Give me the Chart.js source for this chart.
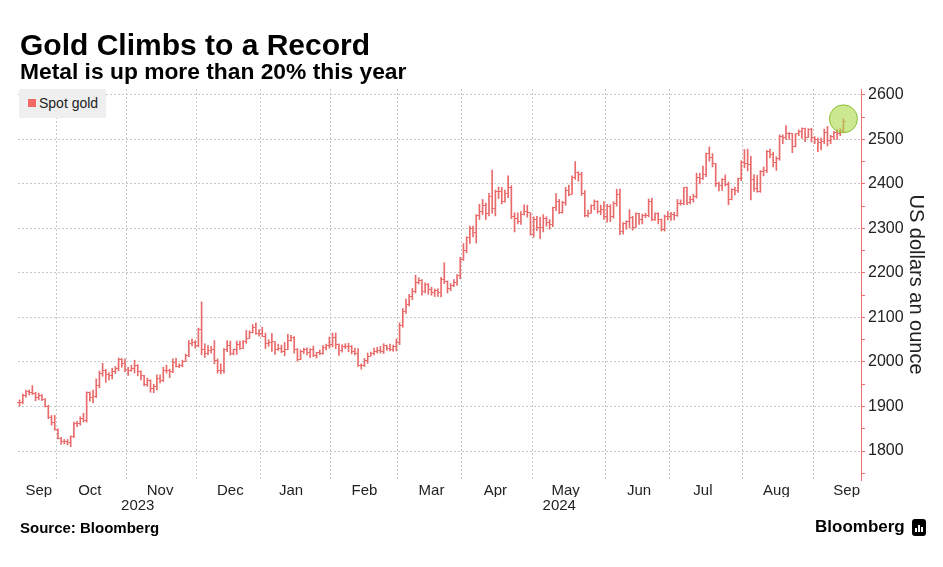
<!DOCTYPE html>
<html>
<head>
<meta charset="utf-8">
<script src="https://cdn.jsdelivr.net/npm/chart.js@4.4.1/dist/chart.umd.min.js"></script>
<style>
html,body{margin:0;padding:0;background:#fff;}
body{width:943px;height:567px;position:relative;overflow:hidden;font-family:'Liberation Sans',Arial,sans-serif;color:#000;}
#chart{position:absolute;left:0;top:0;}
.title{position:absolute;left:20px;top:30px;font-size:30px;line-height:30px;font-weight:bold;white-space:nowrap;}
.subtitle{position:absolute;left:20px;top:60px;font-size:22.8px;line-height:22px;font-weight:bold;white-space:nowrap;}
.legend{position:absolute;left:19px;top:89px;width:87px;height:29px;background:#efefef;border-radius:2px;}
.legend .sw{position:absolute;left:9px;top:10px;width:8px;height:8px;background:#f36a64;}
.legend .lt{position:absolute;left:20px;top:6px;font-size:14px;line-height:16px;color:#222;white-space:nowrap;}
.source{position:absolute;left:20px;top:520px;font-size:15px;line-height:15px;font-weight:bold;white-space:nowrap;}
.logo{position:absolute;left:815px;top:518px;font-size:17px;line-height:17px;font-weight:bold;white-space:nowrap;}
.icon{position:absolute;left:912px;top:519px;width:14px;height:17px;background:#000;border-radius:3px;}
.icon i{position:absolute;bottom:4px;width:2px;background:#fff;}
</style>
</head>
<body>
<canvas id="chart" width="943" height="567"></canvas>
<div class="title">Gold Climbs to a Record</div>
<div class="subtitle">Metal is up more than 20% this year</div>
<div class="legend"><div class="sw"></div><div class="lt">Spot gold</div></div>
<div class="source">Source: Bloomberg</div>
<div class="logo">Bloomberg</div>
<div class="icon"><i style="left:3px;height:4px"></i><i style="left:6px;height:7px"></i><i style="left:9px;height:5px"></i></div>
<script>
// ---- categories: trading days (weekdays minus market holidays) ----
const startDate = '2023-09-14';
const axisEndDate = '2024-09-20';
const holidays = ['2023-12-25', '2024-01-01', '2024-03-29'];
const monthNames = ['Jan','Feb','Mar','Apr','May','Jun','Jul','Aug','Sep','Oct','Nov','Dec'];
const seriesName = 'Spot gold';
const yAxisTitle = 'US dollars an ounce';

// ---- series values (US$/oz), one row per month ----
const openPrice = [
  1908,1910,1924,1934,1931,1930,1920,1925,1916,1901,1875,1864,
  1849,1828,1822,1821,1820,1833,1861,1861,1874,1868,1932,1920,1923,1947,1974,1981,1973,1970,1979,1985,2006,1996,
  1983,1982,1985,1992,1978,1969,1950,1958,1940,1946,1963,1959,1981,1980,1978,1999,1990,1992,2002,2014,2041,2044,
  2036,2072,2029,2019,2025,2028,2004,1982,1980,2027,2036,2019,2027,2040,2031,2045,2053,2067,2077,2065,
  2063,2058,2042,2043,2045,2028,2030,2024,2029,2049,2056,2028,2006,2023,2029,2022,2029,2014,2021,2018,2032,2037,
  2039,2054,2039,2025,2035,2035,2034,2024,2020,1992,1992,2004,2013,2018,2024,2025,2024,2036,2031,2029,2034,
  2044,2083,2114,2128,2148,2159,2179,2182,2158,2175,2162,2156,2160,2157,2186,2181,2165,2171,2179,2194,
  2230,2250,2280,2300,2290,2330,2339,2352,2333,2372,2344,2383,2383,2361,2379,2392,2327,2322,2316,2332,2337,2335,
  2286,2320,2303,2301,2323,2314,2309,2346,2360,2336,2358,2386,2376,2415,2425,2421,2379,2329,2334,2351,2361,2338,2343,
  2327,2350,2327,2355,2375,2294,2311,2316,2325,2303,2333,2319,2329,2328,2360,2321,2334,2320,2298,2327,
  2326,2332,2330,2356,2356,2392,2359,2364,2371,2415,2411,2422,2469,2459,2445,2401,2396,2409,2398,2365,2387,2384,2411,
  2448,2446,2443,2410,2390,2382,2427,2431,2472,2465,2447,2456,2507,2504,2514,2512,2484,2512,2518,2524,2505,2521,
  2503,2500,2493,2495,2516,2497,2506,2516,2512,2520
];
const highPrice = [
  1915,1928,1937,1937,1947,1932,1930,1927,1918,1903,1880,1880,
  1850,1831,1826,1826,1834,1865,1867,1877,1885,1933,1933,1937,1962,1980,1997,1983,1976,1986,1990,2009,2008,2007,
  1988,1993,2004,1994,1980,1970,1964,1960,1950,1971,1971,1988,1993,1984,2007,2008,1996,2004,2018,2048,2052,2048,
  2076,2135,2041,2037,2035,2048,2007,1996,2030,2048,2047,2029,2047,2047,2048,2071,2070,2084,2088,2073,
  2078,2065,2050,2064,2046,2040,2038,2044,2062,2060,2057,2030,2027,2031,2032,2030,2036,2022,2027,2037,2040,2056,
  2065,2065,2041,2039,2041,2042,2037,2031,2030,1996,2008,2020,2022,2031,2033,2035,2041,2038,2040,2038,2052,
  2088,2120,2141,2152,2165,2195,2189,2185,2178,2176,2168,2164,2164,2190,2223,2182,2176,2185,2196,2235,
  2266,2281,2305,2305,2331,2354,2365,2357,2379,2431,2386,2393,2392,2386,2418,2396,2335,2335,2338,2353,2352,2335,
  2326,2327,2325,2331,2326,2320,2348,2378,2365,2361,2392,2397,2418,2450,2427,2426,2385,2341,2353,2364,2362,2352,2360,
  2354,2353,2360,2388,2388,2313,2317,2342,2327,2335,2334,2332,2334,2366,2368,2335,2335,2321,2330,2338,
  2336,2336,2365,2364,2392,2393,2372,2377,2424,2424,2440,2469,2483,2468,2446,2404,2412,2420,2404,2389,2393,2413,2452,
  2477,2478,2462,2421,2419,2430,2438,2475,2478,2471,2461,2510,2510,2531,2515,2513,2513,2521,2526,2525,2524,2525,
  2506,2503,2503,2523,2529,2509,2518,2522,2524,2546
];
const lowPrice = [
  1901,1906,1921,1926,1927,1913,1915,1913,1899,1873,1858,1847,
  1827,1815,1816,1814,1810,1830,1855,1858,1865,1865,1912,1908,1920,1942,1968,1954,1960,1962,1974,1980,1988,1978,
  1970,1979,1975,1969,1960,1946,1945,1932,1931,1937,1953,1956,1975,1965,1976,1989,1987,1989,2001,2012,2036,2031,
  2034,2016,2010,2016,2020,1996,1975,1973,1975,2023,2015,2016,2017,2028,2030,2042,2053,2065,2062,2058,
  2057,2030,2035,2024,2017,2026,2021,2014,2028,2047,2020,2002,2005,2019,2016,2010,2012,2009,2016,2017,2027,2031,
  2034,2030,2015,2022,2030,2023,2018,2016,1990,1984,1990,1997,2013,2016,2020,2020,2019,2026,2025,2024,2025,
  2039,2078,2109,2126,2140,2155,2175,2150,2155,2152,2150,2147,2147,2146,2176,2155,2160,2169,2172,2187,
  2228,2245,2266,2281,2267,2320,2331,2320,2328,2334,2328,2367,2355,2359,2369,2322,2292,2310,2309,2330,2325,2285,
  2280,2295,2277,2292,2305,2298,2304,2340,2333,2334,2352,2373,2376,2410,2406,2374,2326,2326,2334,2342,2334,2331,2320,
  2314,2315,2323,2350,2286,2287,2298,2301,2296,2302,2309,2310,2324,2326,2317,2318,2310,2294,2294,2319,
  2318,2319,2327,2352,2353,2353,2355,2359,2368,2400,2410,2416,2451,2438,2394,2384,2385,2395,2353,2364,2375,2381,2407,
  2436,2429,2364,2383,2381,2381,2418,2425,2459,2438,2430,2453,2490,2500,2500,2470,2483,2508,2502,2495,2504,2494,
  2490,2472,2476,2490,2485,2490,2500,2500,2508,2515
];
const closePrice = [
  1910,1924,1934,1931,1930,1920,1925,1916,1901,1875,1864,1849,
  1828,1822,1821,1820,1833,1861,1861,1874,1868,1932,1920,1923,1947,1974,1981,1973,1970,1979,1985,2006,1996,1983,
  1982,1985,1992,1978,1969,1950,1958,1940,1946,1963,1959,1981,1980,1978,1999,1990,1992,2002,2014,2041,2044,2036,
  2072,2029,2019,2025,2028,2004,1982,1980,2027,2036,2019,2027,2040,2031,2045,2053,2067,2077,2065,2063,
  2058,2042,2043,2045,2028,2030,2024,2029,2049,2056,2028,2006,2023,2029,2022,2029,2014,2021,2018,2032,2037,2039,
  2054,2039,2025,2035,2035,2034,2024,2020,1992,1992,2004,2013,2018,2024,2025,2024,2036,2031,2029,2034,2044,
  2083,2114,2128,2148,2159,2179,2182,2158,2175,2162,2156,2160,2157,2186,2181,2165,2171,2179,2194,2230,
  2250,2280,2300,2290,2330,2339,2352,2333,2372,2344,2383,2383,2361,2379,2392,2327,2322,2316,2332,2337,2335,2286,
  2320,2303,2301,2323,2314,2309,2346,2360,2336,2358,2386,2376,2415,2425,2421,2379,2329,2334,2351,2361,2338,2343,2327,
  2350,2327,2355,2375,2294,2311,2316,2325,2303,2333,2319,2329,2328,2360,2321,2334,2320,2298,2327,2326,
  2332,2330,2356,2356,2392,2359,2364,2371,2415,2411,2422,2469,2459,2445,2401,2396,2409,2398,2365,2387,2384,2411,2448,
  2446,2443,2410,2390,2382,2427,2431,2472,2465,2447,2456,2507,2504,2514,2512,2484,2512,2518,2524,2505,2521,2503,
  2500,2493,2495,2516,2497,2506,2516,2512,2520,2540
];

// ---- y axis ticks ----
const yMin = 1735, yMax = 2613;
const yTickStep = 50, yLabelStep = 100;

// ---- build categories ----
function buildTradingDays(from, to, skip) {
  const out = [];
  const d = new Date(from + 'T00:00:00Z');
  const end = new Date(to + 'T00:00:00Z');
  while (d <= end) {
    const wd = d.getUTCDay();
    const s = d.toISOString().slice(0, 10);
    if (wd !== 0 && wd !== 6 && !skip.includes(s)) out.push(s);
    d.setUTCDate(d.getUTCDate() + 1);
  }
  return out;
}
const labels = buildTradingDays(startDate, axisEndDate, holidays);
const n = closePrice.length;

// month boundaries, month label positions, year label positions
const monthStart = labels.map((s, i) => i > 0 && s.slice(0, 7) !== labels[i - 1].slice(0, 7));
const monthText = {}, yearText = {};
const mGroups = {}, yGroups = {};
labels.forEach((s, i) => {
  (mGroups[s.slice(0, 7)] = mGroups[s.slice(0, 7)] || []).push(i);
  (yGroups[s.slice(0, 4)] = yGroups[s.slice(0, 4)] || []).push(i);
});
Object.keys(mGroups).forEach(k => {
  const idx = mGroups[k];
  const days = idx.map(i => +labels[i].slice(8, 10));
  let pick;
  if (days[0] > 7) pick = idx[Math.floor(idx.length / 2)];
  else {
    const j = days.findIndex(d => d >= 15);
    pick = j >= 0 ? idx[j] : idx[idx.length - 1];
  }
  monthText[pick] = monthNames[+k.slice(5, 7) - 1];
});
Object.keys(yGroups).forEach(k => {
  const idx = yGroups[k];
  yearText[Math.floor((idx[0] + idx[idx.length - 1]) / 2)] = k;
});

// ---- styling ----
const FONT = "'Liberation Sans', Arial, sans-serif";
const BAR = '#e96a6a';
const AXIS = '#f07070';
const GRID = '#c8c8c8';

function tickImage(side) {
  const c = document.createElement('canvas');
  c.width = 5; c.height = 1;
  const g = c.getContext('2d');
  g.fillStyle = BAR;
  g.fillRect(side === 'left' ? 0 : 3, 0, 2, 1);
  return c;
}

const rangeData = lowPrice.map((l, i) => [l, highPrice[i]]);
const markerData = labels.map((_, i) => (i === n - 1 ? highPrice[n - 1] : null));

new Chart(document.getElementById('chart'), {
  type: 'bar',
  data: {
    labels: labels,
    datasets: [
      { type: 'bar', label: seriesName, data: rangeData, backgroundColor: BAR, borderWidth: 0, barThickness: 1, order: 3 },
      { type: 'line', label: 'open', data: openPrice, showLine: false, pointStyle: tickImage('left'), pointRadius: 2, order: 2 },
      { type: 'line', label: 'close', data: closePrice, showLine: false, pointStyle: tickImage('right'), pointRadius: 2, order: 2 },
      { type: 'line', label: 'record', data: markerData, showLine: false, pointStyle: 'circle', pointRadius: 14,
        backgroundColor: 'rgba(170,218,72,0.6)', borderColor: 'rgba(135,190,45,0.95)', borderWidth: 1, order: 1, clip: false }
    ]
  },
  options: {
    responsive: false,
    animation: false,
    events: [],
    layout: { padding: { left: 18, top: 89, right: 0, bottom: 52 } },
    plugins: { legend: { display: false }, tooltip: { enabled: false } },
    scales: {
      x: {
        type: 'category', position: 'bottom', offset: true, weight: 0,
        grid: { offset: true, drawTicks: false, lineWidth: 1,
          color: c => (c.index !== undefined && monthStart[c.index]) ? GRID : 'rgba(0,0,0,0)' },
        border: { display: false, dash: [2, 2] },
        ticks: { autoSkip: false, maxRotation: 0, minRotation: 0, padding: 2, color: '#222',
          font: { family: FONT, size: 15 }, callback: (v, i) => monthText[i] || '' },
        afterFit: s => { s.height = 17; }
      },
      x2: {
        type: 'category', position: 'bottom', offset: true, weight: 1,
        grid: { display: false, drawTicks: false },
        border: { display: false },
        ticks: { autoSkip: false, maxRotation: 0, minRotation: 0, padding: 0, color: '#222',
          font: { family: FONT, size: 15 }, callback: (v, i) => yearText[i] || '' },
        afterFit: s => { s.height = 18; }
      },
      y: {
        type: 'linear', position: 'right', min: yMin, max: yMax,
        afterBuildTicks: s => {
          const t = [];
          for (let v = Math.ceil(yMin / yTickStep) * yTickStep; v <= yMax; v += yTickStep) t.push({ value: v });
          s.ticks = t;
        },
        grid: { lineWidth: 1, drawTicks: true, tickLength: 4, tickWidth: 1, tickColor: AXIS,
          color: c => (c.tick && c.tick.value % yLabelStep === 0) ? GRID : 'rgba(0,0,0,0)' },
        border: { display: true, color: AXIS, width: 1, dash: [2, 2] },
        ticks: { padding: 3, color: '#222', font: { family: FONT, size: 16 },
          callback: v => (v % yLabelStep === 0 ? String(v) : '') },
        title: { display: true, text: yAxisTitle, color: '#222', font: { family: FONT, size: 20 },
          padding: { top: 15, bottom: 0 } },
        afterFit: s => { s.width = 82; }
      }
    }
  }
});
</script>
</body>
</html>
